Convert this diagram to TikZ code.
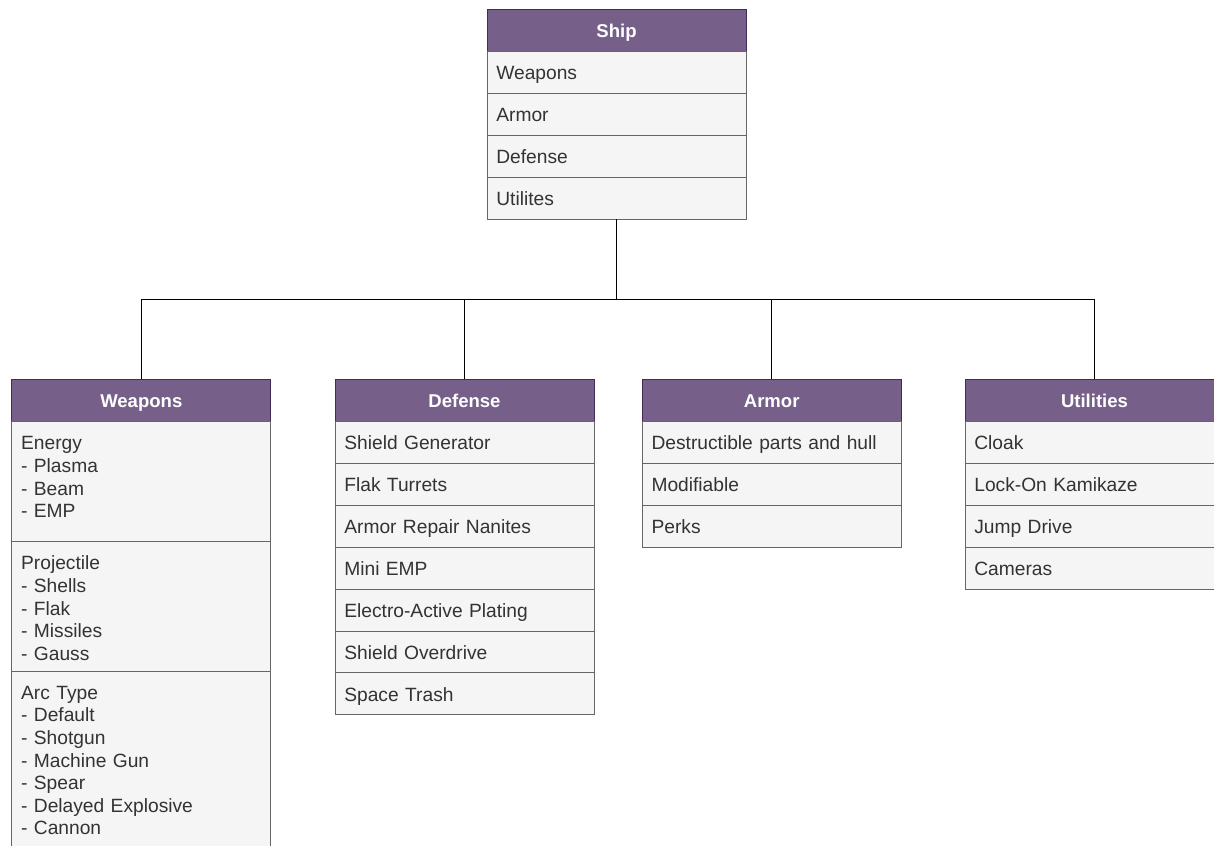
\documentclass[tikz,border=0pt]{standalone}
\usepackage{fontspec}
\setmainfont{Liberation Sans}
\definecolor{hdrfill}{HTML}{76608A}
\definecolor{hdrline}{HTML}{432D57}
\definecolor{rowfill}{HTML}{F5F5F5}
\definecolor{rowline}{HTML}{666666}
\definecolor{rowtext}{HTML}{333333}
\newcommand\dgfont{\fontsize{14.4pt}{16.95pt}\selectfont}
\newcommand\hdfont{\fontsize{13.9pt}{16.95pt}\selectfont\bfseries}
\begin{document}
\begin{tikzpicture}[x=0.75pt,y=-0.75pt,
  box/.style={rectangle, outer sep=0pt, inner ysep=0pt, anchor=north, line width=0.75pt},
  hdr/.style={box, draw=hdrline, fill=hdrfill, text=white, font=\hdfont,
    minimum width=194.25pt, inner xsep=0pt, text height=21.2pt, text depth=10.6pt},
  row/.style={box, draw=rowline, fill=rowfill, text=rowtext, font=\dgfont,
    text width=180.25pt, inner xsep=7pt, align=left, text height=21.2pt, text depth=10.2pt},
  sect/.style={row, text depth=#1},
  link/.style={draw=black, line width=0.9pt}
]
\useasboundingbox (0,0) rectangle (1214,846);
\clip (0,0) rectangle (1214,846);
\fill[white] (0,0) rectangle (1214,846);

% Ship
\node[hdr] (sh) at (616.5,9.3) {Ship};
\node[row] (s1) at (sh.south) {Weapons};
\node[row] (s2) at (s1.south) {Armor};
\node[row] (s3) at (s2.south) {Defense};
\node[row] (s4) at (s3.south) {Utilites};

% Weapons
\node[hdr] (wh) at (141.3,379.3) {Weapons};
\node[sect=68.8pt] (w1) at (wh.south) {Energy\\- Plasma\\- Beam\\- EMP};
\node[sect=75.8pt] (w2) at (w1.south) {Projectile\\- Shells\\- Flak\\- Missiles\\- Gauss};
\node[sect=166.3pt] (w3) at (w2.south) {Arc Type\\- Default\\- Shotgun\\- Machine Gun\\- Spear\\- Delayed Explosive\\- Cannon};

% Defense
\node[hdr] (dh) at (464.5,379.3) {Defense};
\node[row] (d1) at (dh.south) {Shield Generator};
\node[row] (d2) at (d1.south) {Flak Turrets};
\node[row] (d3) at (d2.south) {Armor Repair Nanites};
\node[row] (d4) at (d3.south) {Mini EMP};
\node[row] (d5) at (d4.south) {Electro-Active Plating};
\node[row] (d6) at (d5.south) {Shield Overdrive};
\node[row] (d7) at (d6.south) {Space Trash};

% Armor
\node[hdr] (ah) at (771.7,379.3) {Armor};
\node[row] (a1) at (ah.south) {Destructible parts and hull};
\node[row] (a2) at (a1.south) {Modifiable};
\node[row] (a3) at (a2.south) {Perks};

% Utilities
\node[hdr] (uh) at (1094.5,379.3) {Utilities};
\node[row] (u1) at (uh.south) {Cloak};
\node[row] (u2) at (u1.south) {Lock-On Kamikaze};
\node[row] (u3) at (u2.south) {Jump Drive};
\node[row] (u4) at (u3.south) {Cameras};

% Connectors
\coordinate (bus) at (616.5,299.3);
\draw[link] (s4.south) -- (bus);
\draw[link] (wh.north) |- (bus) -| (uh.north);
\draw[link] (dh.north) -- (dh.north |- bus);
\draw[link] (ah.north) -- (ah.north |- bus);
\end{tikzpicture}
\end{document}
